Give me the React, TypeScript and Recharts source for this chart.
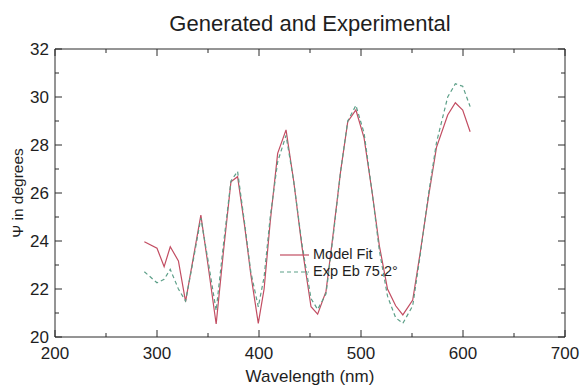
import { LineChart, Line, XAxis, YAxis, Legend } from 'recharts';

// wavelength (nm) sample points
const wavelengths = [
  287.6, 300, 307, 313, 321, 328, 336, 343, 350, 358, 365, 372.5, 379, 386, 392,
  399.3, 405, 411, 418.3, 426.5, 434, 442, 451, 457.5, 465.7, 473, 480, 487, 495,
  503, 511, 518, 526, 534, 541, 550.7, 558, 566, 574, 585, 592.5, 599.7, 607,
];

// Psi (degrees), model fit
const modelFit = [
  23.97, 23.7, 22.93, 23.76, 23.17, 21.47, 23.4, 25.08, 23.0, 20.54, 23.5, 26.47, 26.68, 24.6, 22.6,
  20.57, 22.0, 24.8, 27.65, 28.63, 26.5, 23.8, 21.26, 20.95, 21.9, 24.4, 26.9, 28.97, 29.46,
  28.3, 26.0, 23.8, 22.0, 21.3, 20.92, 21.54, 23.5, 25.8, 27.9, 29.25, 29.76, 29.46, 28.55,
];

// Psi (degrees), experimental Eb 75.2
const expEb = [
  22.72, 22.26, 22.4, 22.82, 22.0, 21.5, 23.3, 24.95, 23.2, 21.1, 23.8, 26.5, 26.9, 24.7, 22.7,
  21.26, 22.5, 25.0, 27.3, 28.4, 26.5, 23.9, 21.6, 21.15, 21.8, 24.3, 26.9, 29.0, 29.65,
  28.5, 26.0, 23.6, 21.7, 20.8, 20.57, 21.3, 23.4, 25.9, 28.1, 30.0, 30.55, 30.45, 29.6,
];

const seriesNames = ['Model Fit', 'Exp Eb 75.2°'];
const xTicks = [200, 250, 300, 350, 400, 450, 500, 550, 600, 650, 700];
const yTicks = [20, 21, 22, 23, 24, 25, 26, 27, 28, 29, 30, 31, 32];

const rows = wavelengths.map((wl, i) => ({ wl, model: modelFit[i], exp: expEb[i] }));

const FONT = '"Liberation Sans", Arial, Helvetica, sans-serif';
const AXIS = '#2a2a2a';
const TEXT = '#1e1e1e';
const RED = '#c24d62';
const GREEN = '#5c9f88';

const isMajorX = (v: number) => v % 100 === 0;
const isMajorY = (v: number) => v % 2 === 0;

const BottomTick = (props: any) => {
  const { x, y, payload } = props;
  const major = isMajorX(payload.value);
  return (
    <g>
      <line x1={x} x2={x} y1={y} y2={y - (major ? 7 : 4)} stroke={AXIS} />
      {major && (
        <text x={x} y={y + 16} textAnchor="middle" dominantBaseline="central"
          fontSize={17} fontFamily={FONT} fill={TEXT}>{payload.value}</text>
      )}
    </g>
  );
};

const TopTick = (props: any) => {
  const { x, y, payload } = props;
  const major = isMajorX(payload.value);
  return <line x1={x} x2={x} y1={y} y2={y + (major ? 7 : 4)} stroke={AXIS} />;
};

const LeftTick = (props: any) => {
  const { x, y, payload } = props;
  const major = isMajorY(payload.value);
  return (
    <g>
      <line x1={x} x2={x + (major ? 7 : 4)} y1={y} y2={y} stroke={AXIS} />
      {major && (
        <text x={x - 6} y={y} textAnchor="end" dominantBaseline="central"
          fontSize={17} fontFamily={FONT} fill={TEXT}>{payload.value}</text>
      )}
    </g>
  );
};

const RightTick = (props: any) => {
  const { x, y, payload } = props;
  const major = isMajorY(payload.value);
  return <line x1={x} x2={x - (major ? 7 : 4)} y1={y} y2={y} stroke={AXIS} />;
};

const LegendBox = (props: any) => {
  const items = [...(props.payload || [])].sort(
    (a: any, b: any) => seriesNames.indexOf(a.value) - seriesNames.indexOf(b.value));
  return (
    <div style={{ fontFamily: FONT, fontSize: 14.5, color: TEXT, lineHeight: '17px' }}>
      {items.map((it: any) => (
        <div key={it.value} style={{ display: 'flex', alignItems: 'center', height: 17 }}>
          <svg width={30} height={4}>
            <line x1={0} x2={29} y1={2} y2={2} stroke={it.color} strokeWidth={1.2}
              strokeDasharray={it.payload?.strokeDasharray} />
          </svg>
          <span style={{ marginLeft: 3 }}>{it.value}</span>
        </div>
      ))}
    </div>
  );
};

export default function App() {
  return (
    <div style={{ position: 'absolute', left: 0, top: 0, width: 581, height: 386, background: '#fff' }}>
      <div style={{
        position: 'absolute', left: 55, top: 13, width: 510, textAlign: 'center',
        fontFamily: FONT, fontSize: 22, color: TEXT, lineHeight: '22px',
      }}>
        Generated and Experimental
      </div>
      <div style={{
        position: 'absolute', left: 18, top: 193, transform: 'translate(-50%, -50%) rotate(-90deg)',
        whiteSpace: 'nowrap', fontFamily: FONT, fontSize: 15.5, color: TEXT,
      }}>
        Ψ in degrees
      </div>
      <LineChart width={581} height={386} data={rows}
        margin={{ top: 48, right: 15, bottom: 0, left: 0 }}>
        <XAxis dataKey="wl" type="number" domain={[200, 700]} ticks={xTicks}
          height={49} tickSize={0} tickMargin={0} tick={<BottomTick />}
          axisLine={{ stroke: AXIS }} interval={0}
          label={{ value: 'Wavelength (nm)', position: 'insideBottom', offset: 4,
            fontSize: 17, fontFamily: FONT, fill: TEXT }} />
        <XAxis xAxisId="top" orientation="top" dataKey="wl" type="number" domain={[200, 700]}
          ticks={xTicks} height={1} tickSize={0} tickMargin={0} tick={<TopTick />}
          axisLine={{ stroke: AXIS }} interval={0} />
        <YAxis type="number" domain={[20, 32]} ticks={yTicks} width={55}
          tickSize={0} tickMargin={0} tick={<LeftTick />} axisLine={{ stroke: AXIS }} interval={0} />
        <YAxis yAxisId="right" orientation="right" type="number" domain={[20, 32]} ticks={yTicks}
          width={1} tickSize={0} tickMargin={0} tick={<RightTick />} axisLine={{ stroke: AXIS }} interval={0} />
        <Legend layout="vertical" align="center" verticalAlign="middle" content={<LegendBox />}
          wrapperStyle={{ position: 'absolute', left: 280, top: 246, width: 'auto', height: 'auto' }} />
        <Line dataKey="model" name={seriesNames[0]} type="linear" stroke={RED} strokeWidth={1.2}
          dot={false} isAnimationActive={false} />
        {/* same domains on the top/right axes, so the frame axes get a series too */}
        <Line dataKey="exp" name={seriesNames[1]} xAxisId="top" yAxisId="right" type="linear"
          stroke={GREEN} strokeWidth={1.2} strokeDasharray="4 3" dot={false} isAnimationActive={false} />
      </LineChart>
    </div>
  );
}
